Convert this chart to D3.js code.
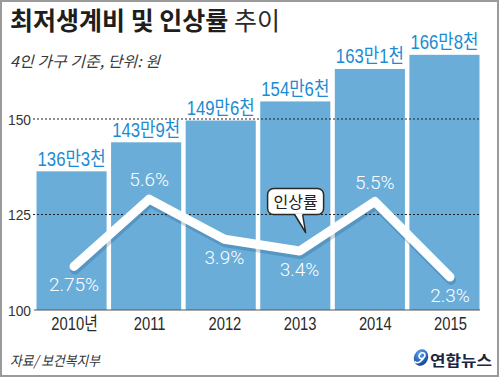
<!DOCTYPE html>
<html><head><meta charset="utf-8">
<script src="https://cdn.jsdelivr.net/npm/d3@7"></script>
<style>
html,body{margin:0;padding:0;background:#fff;}
svg{display:block;}
</style></head>
<body>
<script>
// ---- data ----
const years = ["2010", "2011", "2012", "2013", "2014", "2015"];
const yearLabels = ["2010년", "2011", "2012", "2013", "2014", "2015"];
const costValues = [136.3, 143.9, 149.6, 154.6, 163.1, 166.8];
const costLabels = ["136만3천", "143만9천", "149만6천", "154만6천", "163만1천", "166만8천"];
const rateValues = [2.75, 5.6, 3.9, 3.4, 5.5, 2.3];
const rateLabels = ["2.75%", "5.6%", "3.9%", "3.4%", "5.5%", "2.3%"];
const yTicks = [100, 125, 150];

const W = 500, H = 378;
const svg = d3.select("body").append("svg").attr("width", W).attr("height", H);

const BAR = "#6aadd9", LABEL = "#1b8bd3", DARK = "#2a2a2a";
const latin = "'Liberation Sans', 'Noto Sans CJK KR', sans-serif";
const cjk = "'Noto Sans CJK KR', sans-serif";

function condense(sel, f) {
  sel.each(function () {
    const n = this.getComputedTextLength();
    d3.select(this).attr("textLength", n * f).attr("lengthAdjust", "spacingAndGlyphs");
  });
}

// frame
svg.append("rect").attr("x", 1).attr("y", 1).attr("width", W - 3).attr("height", H - 3)
  .attr("fill", "#fff").attr("stroke", "#9a9a9a").attr("stroke-width", 2);

// scales
const xb = d3.scaleBand().domain(years).range([36.5, 479.5]).paddingInner(0.06).paddingOuter(0);
const xp = d3.scalePoint().domain(years).range([74, 450]);
const yb = d3.scaleLinear().domain([100, 150]).range([310, 119]);
const yr = d3.scaleLinear().domain([2, 6]).range([284.1, 189.7]);

// title
const title = svg.append("text").attr("x", 10).attr("y", 30).attr("font-family", cjk)
  .attr("font-size", 25);
title.append("tspan").attr("font-weight", 700).attr("fill", "#1e1e1e").text("최저생계비 및 인상률 ");
title.append("tspan").attr("font-weight", 400).attr("fill", "#2a2a2a").text("추이");
svg.append("text").attr("x", 10).attr("y", 67).attr("font-family", cjk).attr("font-style", "italic")
  .attr("font-size", 15).attr("fill", "#3a3a3a").text("4인 가구 기준, 단위: 원")
  .attr("textLength", 150).attr("lengthAdjust", "spacingAndGlyphs");

// bars
svg.append("g").selectAll("rect").data(years).join("rect")
  .attr("x", d => xb(d)).attr("width", xb.bandwidth())
  .attr("y", (d, i) => yb(costValues[i])).attr("height", (d, i) => yb(100) - yb(costValues[i]))
  .attr("fill", BAR);

// bar value labels
svg.append("g").selectAll("text").data(years).join("text")
  .attr("x", d => xb(d) + xb.bandwidth() / 2).attr("y", (d, i) => yb(costValues[i]) - 5.5)
  .attr("text-anchor", "middle").attr("font-family", latin).attr("font-size", 20)
  .attr("fill", LABEL).text((d, i) => costLabels[i])
  .attr("textLength", 68).attr("lengthAdjust", "spacingAndGlyphs");

// grid lines + y tick labels
const yAxis = d3.axisLeft(yb).tickValues(yTicks).tickSize(0).tickPadding(0);
const gy = svg.append("g").attr("transform", "translate(31,0)").call(yAxis);
gy.select(".domain").remove();
gy.selectAll("text").attr("font-family", latin).attr("font-size", 15).attr("fill", "#333")
  .attr("dy", "0.34em").call(condense, 0.92);
svg.append("g").selectAll("line").data(yTicks.filter(t => t > 100)).join("line")
  .attr("x1", 33).attr("x2", 480).attr("y1", d => yb(d)).attr("y2", d => yb(d))
  .attr("stroke", "#222").attr("stroke-width", 1).attr("stroke-dasharray", "2,2");
svg.append("line").attr("x1", 34).attr("x2", 480).attr("y1", yb(100)).attr("y2", yb(100))
  .attr("stroke", "#555").attr("stroke-width", 1);

// x labels
const xAxis = d3.axisBottom(xp).tickSize(0).tickPadding(0).tickFormat((d, i) => yearLabels[i]);
const gx = svg.append("g").attr("transform", "translate(0,330)").call(xAxis);
gx.select(".domain").remove();
gx.selectAll("text").attr("font-family", latin).attr("font-size", 18).attr("fill", "#2a2a2a")
  .attr("dy", 0).call(condense, 0.82);

// line with soft shadow
const line = d3.line().x((d, i) => xp(years[i])).y(d => yr(d));
svg.append("path").datum(rateValues).attr("d", line).attr("transform", "translate(1,3)")
  .attr("fill", "none").attr("stroke", "rgba(20,70,120,0.22)").attr("stroke-width", 10)
  .attr("stroke-linejoin", "round").attr("stroke-linecap", "round");
svg.append("path").datum(rateValues).attr("d", line)
  .attr("fill", "none").attr("stroke", "#fff").attr("stroke-width", 9)
  .attr("stroke-linejoin", "round").attr("stroke-linecap", "round");

// rate labels
svg.append("g").selectAll("text").data(rateValues).join("text")
  .attr("x", (d, i) => xp(years[i]))
  .attr("y", d => d > 5 ? yr(d) - 13 : yr(d) + 25)
  .attr("text-anchor", "middle").attr("font-family", "Roboto, 'Liberation Sans', sans-serif")
  .attr("font-weight", 300).attr("font-size", 19).attr("fill", "#fff")
  .text((d, i) => rateLabels[i]);

// callout
const cx = xp("2013"), cy = yb(125);
const call = svg.append("g");
call.append("rect").attr("x", cx - 32).attr("y", cy - 26).attr("width", 56).attr("height", 26)
  .attr("rx", 6).attr("fill", "#fff").attr("stroke", DARK).attr("stroke-width", 1.5);
call.append("path")
  .attr("d", `M${cx - 5},${cy - 1} L${cx + 6},${cy + 18} L${cx + 3},${cy - 1} Z`)
  .attr("fill", "#fff").attr("stroke", "none");
call.append("path")
  .attr("d", `M${cx - 5},${cy} L${cx + 6},${cy + 18} L${cx + 3},${cy}`)
  .attr("fill", "none").attr("stroke", DARK).attr("stroke-width", 1.5).attr("stroke-linejoin", "round");
call.append("text").attr("x", cx - 4).attr("y", cy - 7).attr("text-anchor", "middle")
  .attr("font-family", cjk).attr("font-size", 16).attr("fill", "#222").text("인상률");

// source
svg.append("text").attr("x", 10).attr("y", 366).attr("font-family", cjk).attr("font-style", "italic")
  .attr("font-size", 14).attr("fill", "#333").text("자료/ 보건복지부")
  .attr("textLength", 90).attr("lengthAdjust", "spacingAndGlyphs");

// logo
const defs = svg.append("defs");
const gr = defs.append("radialGradient").attr("id", "lg").attr("cx", "35%").attr("cy", "30%").attr("r", "75%");
gr.append("stop").attr("offset", "0%").attr("stop-color", "#5ea8f0");
gr.append("stop").attr("offset", "100%").attr("stop-color", "#0d3f9a");
const logo = svg.append("g").attr("transform", "translate(421,357.5) rotate(20)");
logo.append("ellipse").attr("rx", 7).attr("ry", 8.5).attr("fill", "url(#lg)");
logo.append("path").attr("d", "M2,-5 C-3,-6 -4,1 0,1 C3,1 4,-3 2,-5 M3,-2 C2,4 -1,7 -4,6")
  .attr("fill", "none").attr("stroke", "#fff").attr("stroke-width", 1.6).attr("stroke-linecap", "round");
svg.append("text").attr("x", 430).attr("y", 366).attr("font-family", cjk).attr("font-weight", 700)
  .attr("font-size", 15).attr("fill", "#1b2540").text("연합뉴스")
  .attr("textLength", 62).attr("lengthAdjust", "spacingAndGlyphs");
</script>
</body></html>
